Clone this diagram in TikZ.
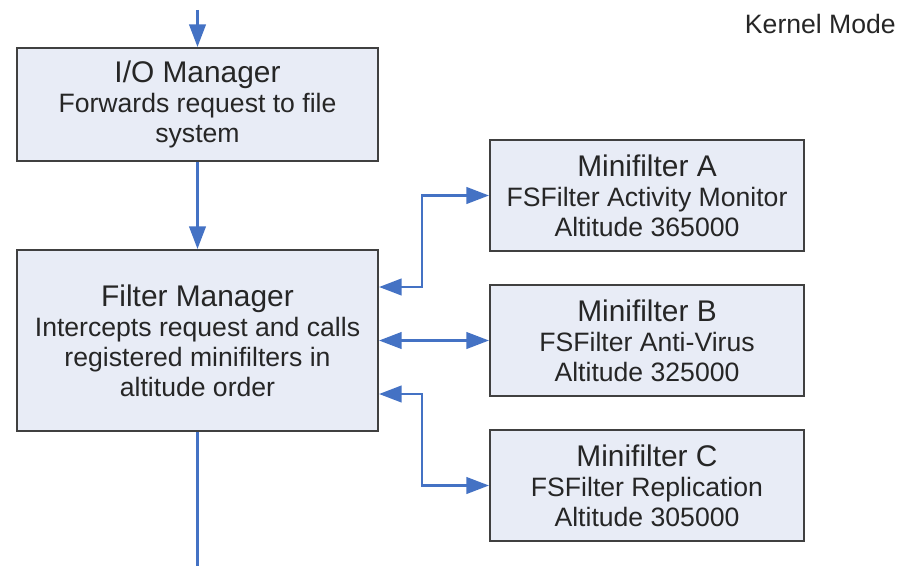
\documentclass[tikz,border=0pt]{standalone}
\usepackage{fontspec}
\setmainfont{Liberation Sans}
\usetikzlibrary{arrows.meta}
\definecolor{boxfill}{HTML}{E8ECF6}
\definecolor{boxline}{HTML}{404040}
\definecolor{connc}{HTML}{4472C4}
\newcommand{\ttl}[1]{{\fontsize{25.5}{25.6}\selectfont #1}}
\begin{document}
\begin{tikzpicture}[x=0.03cm,y=-0.03cm,
  box/.style={draw=boxline, fill=boxfill, line width=1.8pt, align=center,
    font=\fontsize{22.7}{25.6}\selectfont, text=black!85, inner sep=0pt},
  txt/.style={font=\fontsize{22.7}{25.6}\selectfont, text=black!85, inner sep=0pt},
  conn/.style={draw=connc, line width=2pt, -{Triangle[length=0.68cm,width=0.5cm]}},
  dconn/.style={draw=connc, line width=2pt, {Triangle[length=0.68cm,width=0.5cm]}-{Triangle[length=0.68cm,width=0.5cm]}},
  plain/.style={draw=connc, line width=2pt}]
\useasboundingbox (0,0) rectangle (900,566);
\node[box, minimum width=10.83cm, minimum height=3.39cm] (io) at (197.5,104.5)
  {\ttl{I/O Manager}\\Forwards request to file\\system};
\node[box, minimum width=10.83cm, minimum height=5.43cm] (fm) at (197.5,340.5)
  {\ttl{Filter Manager}\\Intercepts request and calls\\registered minifilters in\\altitude order};
\node[box, minimum width=9.42cm, minimum height=3.33cm] (ma) at (647,195.5)
  {\ttl{Minifilter A}\\FSFilter Activity Monitor\\Altitude 365000};
\node[box, minimum width=9.42cm, minimum height=3.33cm] (mb) at (647,340.5)
  {\ttl{Minifilter B}\\FSFilter Anti-Virus\\Altitude 325000};
\node[box, minimum width=9.42cm, minimum height=3.33cm] (mc) at (647,485.5)
  {\ttl{Minifilter C}\\FSFilter Replication\\Altitude 305000};
\node[txt, anchor=east] (km) at (896,24) {Kernel Mode};
\coordinate (top) at (197.5,10);
\coordinate (bot) at (197.5,566);
\draw[conn] (top) -- (io.north);
\draw[conn] (io.south) -- (fm.north);
\draw[plain] (fm.south) -- (bot);
\draw[dconn] (fm.east |- 0,287) -- (422,287) |- (ma.west);
\draw[dconn] (fm.east) -- (mb.west);
\draw[dconn] (fm.east |- 0,394) -- (422,394) |- (mc.west);
\end{tikzpicture}
\end{document}
